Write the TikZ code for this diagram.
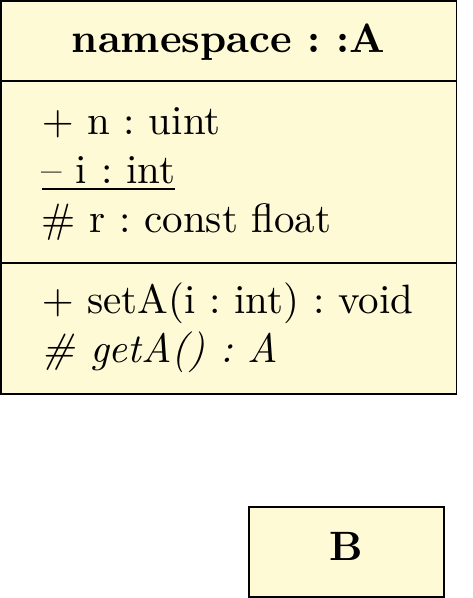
\documentclass[tikz,border=0pt]{standalone}
\usepackage{tikz}
\definecolor{classfill}{RGB}{255,250,214}
\newcommand{\drawclass}{\draw[line width=0.45pt,fill=classfill]}
\newcommand{\drawsep}{\draw[line width=0.45pt]}
\tikzset{member/.style={anchor=base west,inner sep=0pt},
  classname/.style={anchor=base,inner sep=0pt,font=\bfseries}}
\newcommand{\member}[3]{\node[member] (#1) at (41,#2) {#3};}
\frenchspacing

\begin{document}
\begin{tikzpicture}[x=0.2439pt,y=-0.2439pt]
\useasboundingbox (0,0) rectangle (473,598);
% class A
\drawclass (0.8,0.8) rectangle (456.5,394.3);
    \drawsep (0.8,81)--(456.5,81);
    \drawsep (0.8,263)--(456.5,263);
\node[classname] (A) at (228.6,52) {namespace : :A};
\member{n}{134}{$+$ n : uint}
\member{i}{183}{\underline{-- i : int}}
\member{r}{232}{\# r : const float}
\member{setA}{313}{$+$ setA(i : int) : void}
\member{getA}{362}{\textit{\# getA() : A}}
% class B
\drawclass (249,507) rectangle (444,596.8);
\node[classname] (B) at (346.5,560) {B};
\end{tikzpicture}
\end{document}
